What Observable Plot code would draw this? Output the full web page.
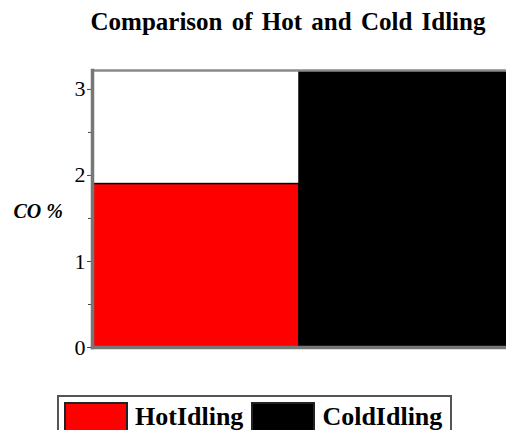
<!DOCTYPE html>
<html><head><meta charset="utf-8">
<script src="https://cdn.jsdelivr.net/npm/d3@7"></script>
<script src="https://cdn.jsdelivr.net/npm/@observablehq/plot@0.6"></script>
<style>
body{margin:0;background:#fff;width:506px;height:430px;overflow:hidden;position:relative;font-family:"Liberation Serif","Times New Roman",serif}
#title{position:absolute;left:70px;right:0;top:8px;text-align:center;font-weight:bold;font-size:25px;word-spacing:3px;color:#000;white-space:nowrap}
#chart{position:absolute;left:0;top:60px}
#legend{position:absolute;left:57px;top:395px;width:391px;height:40px;border:2px solid #555;box-sizing:content-box;display:flex;align-items:flex-start}
.item{display:flex;align-items:center;margin-top:5px}
.sw{width:64px;height:30px;border:2px solid #222;box-sizing:border-box;margin-left:5px;margin-right:7px}
.item + .item .sw{margin-left:8px}
.lab{font-weight:bold;font-size:26px;color:#000;line-height:30px}
</style></head><body>
<div id="title"></div><div id="chart"></div><div id="legend"></div>
<script>
const categories = ["HotIdling", "ColdIdling"];
const values = [1.9, 3.6];
const colors = ["#ff0000", "#000000"];
const yTicks = [0, 1, 2, 3];
const yMinorTicks = [0.5, 1.5, 2.5];
const yMax = 3.22;
const titleText = "Comparison of Hot and Cold Idling";
const yLabel = "CO %";

const data = categories.map((c, i) => ({cat: c, value: values[i]}));

document.getElementById("title").textContent = titleText;

const plot = Plot.plot({
  width: 506,
  height: 300,
  marginLeft: 92,
  marginRight: 0,
  marginTop: 10,
  marginBottom: 13,
  style: {fontFamily: "'Liberation Serif', serif", fontSize: "22px", color: "#000", overflow: "visible"},
  x: {type: "band", domain: categories, padding: 0, axis: null},
  y: {domain: [0, yMax], axis: null},
  color: {domain: categories, range: colors},
  marks: [
    Plot.barY(data, {x: "cat", y: "value", fill: "cat", stroke: "#000", strokeWidth: 1.5, clip: true}),
    Plot.axisY(yTicks, {tickSize: 5, tickPadding: 2, stroke: "#444", fontSize: 22, label: null, tickFormat: d3.format("d")}),
    Plot.axisY(yMinorTicks, {tickSize: 4, text: null, label: null, stroke: "#444"}),
    Plot.frame({anchor: "top", stroke: "#8a8a8a", strokeWidth: 2.5}),
    Plot.frame({anchor: "left", stroke: "#777", strokeWidth: 3.5}),
    Plot.frame({anchor: "bottom", stroke: "#777", strokeWidth: 3.5}),
    Plot.text([yLabel], {frameAnchor: "left", dx: -79, dy: 3, textAnchor: "start", fontWeight: "bold", fontStyle: "italic", fontSize: 20})
  ]
});
document.getElementById("chart").appendChild(plot);

const legend = document.getElementById("legend");
categories.forEach((c, i) => {
  const item = document.createElement("div");
  item.className = "item";
  const sw = document.createElement("div");
  sw.className = "sw";
  sw.style.background = colors[i];
  const lab = document.createElement("span");
  lab.className = "lab";
  lab.textContent = c;
  item.appendChild(sw);
  item.appendChild(lab);
  legend.appendChild(item);
});
</script>
</body></html>
